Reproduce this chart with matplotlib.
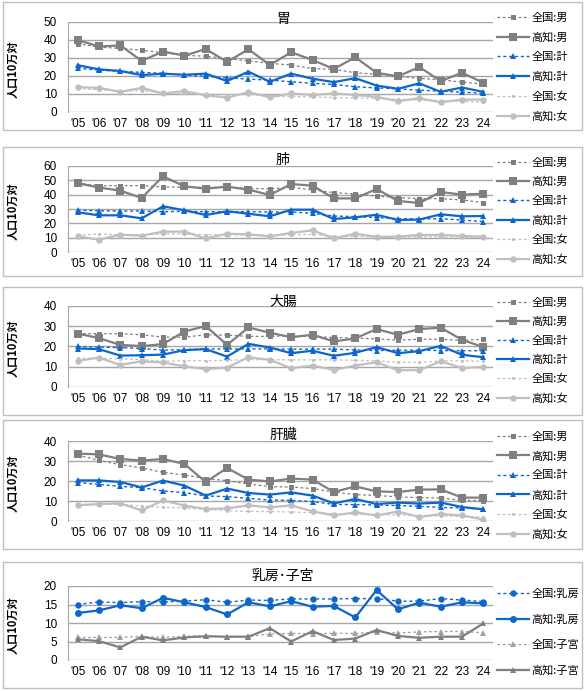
import matplotlib
matplotlib.use('Agg')
import matplotlib.pyplot as plt
from matplotlib.patches import Rectangle

plt.rcParams['font.family'] = ['Noto Sans CJK JP', 'DejaVu Sans']

years = ["'05", "'06", "'07", "'08", "'09", "'10", "'11", "'12", "'13", "'14",
         "'15", "'16", "'17", "'18", "'19", "'20", "'21", "'22", "'23", "'24"]

# 胃
stomach_jp_m = [38, 36, 35.4, 34.3, 33, 31.5, 31, 29.7, 28.4, 27, 26.1, 24.1, 23.7, 21.8, 21, 19.8, 18.7, 17.9, 16.6, 15.5]
stomach_kc_m = [40, 36.4, 37, 28.4, 33.6, 31.3, 35, 27.8, 34.9, 26.1, 33.2, 28.9, 23.9, 30.4, 21.8, 19.8, 25, 17.2, 21.8, 16.2]
stomach_jp_t = [24.3, 23.3, 22.6, 22, 21.5, 20.5, 19.8, 19, 18.3, 17.7, 16.8, 15.9, 15.3, 14, 13.4, 12.9, 12.1, 11.6, 11, 10.4]
stomach_kc_t = [26, 23.7, 22.8, 20.5, 21.3, 20.7, 21.3, 17.2, 22.4, 16.8, 21.3, 18.5, 16.6, 18.8, 14.7, 12.9, 15.9, 11.2, 13.6, 11.2]
stomach_jp_f = [12.9, 12.5, 11.6, 11.9, 10.6, 10.4, 9.7, 9.7, 9.7, 9, 8.6, 8.4, 8, 7.8, 7.5, 7.1, 6.7, 6.3, 6, 5.4]
stomach_kc_f = [13.8, 13.4, 11.2, 13.4, 10.3, 11.6, 9.3, 8, 11, 8.2, 10.3, 9.5, 10.3, 9.5, 8.4, 6, 7.6, 5.4, 6.9, 6.9]

# 肺
lung_jp_m = [48, 46.3, 46.3, 46.3, 45.3, 45.3, 45.1, 45.1, 44.4, 44, 45.1, 43.3, 41.4, 40.5, 39, 37.9, 37.2, 37.2, 36.3, 34.4]
lung_kc_m = [48, 45, 42.8, 37.7, 52.8, 45.8, 44.2, 45.6, 43.5, 39.8, 47.4, 46.3, 37.4, 37.4, 44, 35.6, 34.2, 41.9, 40, 40.7]
lung_jp_t = [29.1, 28.8, 28.6, 28.6, 28.1, 28.4, 28.1, 28.1, 28.1, 27.9, 27.9, 27, 25.1, 24.7, 24, 23.3, 23, 23.3, 22.3, 21.2]
lung_kc_t = [27.7, 25.6, 25.6, 23.5, 31.9, 29.1, 25.8, 28.4, 26.7, 24.9, 29.5, 29.5, 23, 24.2, 26, 22.3, 22.6, 26.3, 24.9, 25.1]
lung_jp_f = [11.6, 12.6, 12, 12, 12.6, 12.6, 12, 12, 12, 11.4, 12, 12.3, 10.9, 10.9, 10.9, 10.5, 10.5, 10.5, 10.5, 9.8]
lung_kc_f = [10.9, 8.6, 12.1, 11.4, 14.2, 14.2, 9.5, 12.8, 12.3, 10.9, 13.3, 15.1, 9.5, 12.8, 10.5, 10.7, 11.9, 11.9, 11.2, 10.7]

# 大腸
colon_jp_m = [26.4, 26.3, 26.3, 25.8, 24.6, 24.6, 25.8, 25.6, 25, 25, 25.3, 24.8, 24.5, 24.1, 23.8, 23.1, 23.6, 23.6, 23, 23.6]
colon_kc_m = [26.4, 24.1, 20.8, 20.2, 21.2, 27.4, 30.1, 20.8, 29.4, 26.8, 24.6, 25.8, 22.5, 24, 28.6, 25.8, 28.6, 29.3, 23.3, 19.7]
colon_jp_t = [20, 19.7, 19.5, 19, 18.2, 18.5, 18.8, 18.8, 18.8, 18.8, 18.7, 18.7, 18.7, 18.3, 18, 18.2, 18.2, 18, 17.9, 17.9]
colon_kc_t = [19, 18.7, 15.5, 15.7, 16, 18.2, 18.7, 15, 21.3, 19.5, 16.7, 17.9, 15.4, 16.9, 19.7, 16.7, 17.7, 20.3, 15.9, 14.7]
colon_jp_f = [14.2, 14.2, 13.9, 13.5, 12.7, 13, 13, 13.2, 13.5, 13.5, 13.4, 13.4, 13.4, 13.2, 12.9, 12.2, 12.1, 12.9, 13, 12.7]
colon_kc_f = [12.9, 14.5, 10.9, 12.7, 12.1, 10.2, 8.8, 9.6, 14.7, 13.4, 9.3, 10.6, 8.4, 10.6, 12.2, 8.3, 8.3, 12.7, 9.4, 9.9]

# 肝臓
liver_jp_m = [33, 30.3, 28.2, 26.5, 24.3, 23, 21.2, 20.2, 18.5, 17.2, 17, 16.2, 14.5, 13.2, 12.8, 12, 11.7, 11.5, 10.3, 10.2]
liver_kc_m = [33.7, 33.3, 31, 30.2, 31, 28.5, 19.5, 26.5, 20.7, 19.8, 21.2, 20.7, 14.5, 17.3, 14.8, 14.5, 15.7, 15.8, 11.7, 11.7]
liver_jp_t = [19.2, 18.3, 17.3, 16.7, 15, 14.2, 12.5, 12.2, 11.3, 10.5, 10.3, 9.7, 8.3, 8.2, 8, 7.7, 7.3, 6.8, 6.5, 6]
liver_kc_t = [20.3, 20.3, 19.5, 16.8, 20.2, 17.7, 12.7, 16.2, 14, 13.2, 14.3, 12.7, 8.8, 11, 8.5, 9.2, 8.7, 9.2, 7, 5.8]
liver_jp_f = [8.3, 8.3, 8.3, 7.5, 6.8, 6.5, 5.8, 5.2, 4.8, 4.7, 4.5, 4.2, 3.7, 3.3, 3.2, 3, 2.7, 2.5, 2.3, 2]
liver_kc_f = [7.8, 8.5, 8.8, 5.3, 10.3, 7.7, 6, 6.3, 7.8, 6.8, 7.8, 4.8, 2.8, 4.3, 2.8, 4.7, 2, 3.5, 2.8, 0.7]

# 乳房・子宮
breast_jp = [15, 15.7, 15.5, 15.8, 15.7, 15.9, 16.3, 15.6, 16.2, 16.1, 16.5, 16.5, 16.5, 16.6, 16.6, 15.9, 15.9, 16.6, 16.2, 15.8]
breast_kc = [12.7, 13.4, 14.8, 14, 16.8, 15.6, 14.3, 12.3, 15.6, 14.5, 15.9, 14.4, 14.6, 11.5, 18.9, 13.7, 15.5, 14.4, 15.6, 15.3]
uterus_jp = [6.1, 6.1, 6.1, 6.4, 6.1, 6.4, 6.6, 6.2, 6.4, 7, 7.2, 7.1, 7.2, 7.2, 7.5, 7.3, 7.6, 7.7, 7.7, 7.4]
uterus_kc = [5.6, 5.1, 3.4, 6.3, 5.3, 6.1, 6.4, 6.3, 6.3, 8.6, 5, 7.8, 5.4, 5.8, 8.1, 6.5, 6, 6.3, 6.3, 9.9]

DARK = '#7f7f7f'
BLUE = '#0d66cc'
LIGHT = '#bfbfbf'
DOT = (0, (2.2, 2.0))

# style per series: color, linestyle, lw, marker, markersize
sty_jp_m = dict(color=DARK, ls=DOT, lw=0.9, marker='s', ms=3.6)
sty_kc_m = dict(color=DARK, ls='-', lw=1.6, marker='s', ms=5.2)
sty_jp_t = dict(color=BLUE, ls=DOT, lw=1.0, marker='^', ms=3.8)
sty_kc_t = dict(color=BLUE, ls='-', lw=1.6, marker='^', ms=5.0)
sty_jp_f = dict(color=LIGHT, ls=DOT, lw=0.9, marker='o', ms=2.2)
sty_kc_f = dict(color=LIGHT, ls='-', lw=1.6, marker='o', ms=4.6)

def six(jm, km, jt, kt, jf, kf):
    return [('全国:男', jm, sty_jp_m), ('高知:男', km, sty_kc_m),
            ('全国:計', jt, sty_jp_t), ('高知:計', kt, sty_kc_t),
            ('全国:女', jf, sty_jp_f), ('高知:女', kf, sty_kc_f)]

panels = [
    dict(title='胃', box=(2, 130), top=22, bot=112, ymax=50, step=10, title_y=19,
         leg_top=12.5, spacing=0.84,
         series=six(stomach_jp_m, stomach_kc_m, stomach_jp_t, stomach_kc_t, stomach_jp_f, stomach_kc_f)),
    dict(title='肺', box=(147, 276), top=166, bot=252, ymax=60, step=10, title_y=160,
         leg_top=157.5, spacing=0.8,
         series=six(lung_jp_m, lung_kc_m, lung_jp_t, lung_kc_t, lung_jp_f, lung_kc_f)),
    dict(title='大腸', box=(287, 415), top=306, bot=387, ymax=40, step=10, title_y=302,
         leg_top=297.5, spacing=0.78,
         series=six(colon_jp_m, colon_kc_m, colon_jp_t, colon_kc_t, colon_jp_f, colon_kc_f)),
    dict(title='肝臓', box=(420, 549), top=441, bot=521, ymax=40, step=10, title_y=435,
         leg_top=431.5, spacing=0.82,
         series=six(liver_jp_m, liver_kc_m, liver_jp_t, liver_kc_t, liver_jp_f, liver_kc_f)),
    dict(title='乳房･子宮', box=(562, 688), top=586, bot=660, ymax=20, step=5, title_y=576,
         leg_top=588.5, spacing=1.38,
         series=[('全国:乳房', breast_jp, dict(color=BLUE, ls=DOT, lw=1.0, marker='o', ms=4.6)),
                 ('高知:乳房', breast_kc, dict(color=BLUE, ls='-', lw=1.6, marker='o', ms=5.0)),
                 ('全国:子宮', uterus_jp, dict(color='#a0a0a0', ls=DOT, lw=0.9, marker='^', ms=4.2)),
                 ('高知:子宮', uterus_kc, dict(color=DARK, ls='-', lw=1.6, marker='^', ms=4.6))]),
]

W, H = 585, 691
fig = plt.figure(figsize=(5.85, 6.91), dpi=100)


def fx(x):
    return x / W


def fy(y):
    return 1 - y / H


for p in panels:
    b0, b1 = p['box']
    fig.patches.append(Rectangle((fx(3), fy(b1)), fx(582) - fx(3), (b1 - b0) / H,
                                 transform=fig.transFigure, fill=False,
                                 edgecolor='#bfbfbf', lw=1.0))
    ax = fig.add_axes([fx(68), fy(p['bot']), fx(493) - fx(68), (p['bot'] - p['top']) / H])
    x = list(range(len(years)))
    for label, vals, s in p['series']:
        ax.plot(x, vals, label=label, color=s['color'], linestyle=s['ls'], linewidth=s['lw'],
                marker=s['marker'], markersize=s['ms'], markeredgewidth=0)
    ax.set_xlim(-0.45, 19.45)
    ax.set_ylim(0, p['ymax'])
    ax.set_yticks(range(0, p['ymax'] + 1, p['step']))
    ax.set_xticks(x)
    ax.set_xticklabels(years)
    ax.grid(axis='y', color='#a6a6a6', lw=1.0)
    ax.set_axisbelow(True)
    for side in ['top', 'right', 'bottom']:
        ax.spines[side].set_visible(False)
    ax.spines['left'].set_color('#a6a6a6')
    ax.tick_params(axis='both', length=0, labelsize=8.5)
    ax.tick_params(axis='y', pad=8)
    ax.tick_params(axis='x', pad=4)
    for t in ax.get_xticklabels() + ax.get_yticklabels():
        t.set_fontfamily(['Liberation Sans', 'DejaVu Sans'])
    fig.text(fx(283), fy(p['title_y']), p['title'], ha='center', va='center', fontsize=10)
    fig.text(fx(13), fy((p['top'] + p['bot']) / 2 + 2), '人口10万対', rotation=90,
             ha='center', va='center', fontsize=8, fontweight='bold')
    h, l = ax.get_legend_handles_labels()
    fig.legend(h, l, loc='upper left', bbox_to_anchor=(fx(497), fy(p['leg_top'])),
               frameon=False, fontsize=8, handlelength=2.9, handletextpad=0.2,
               labelspacing=p['spacing'], borderaxespad=0, borderpad=0)

fig.savefig('out.png', dpi=100)
